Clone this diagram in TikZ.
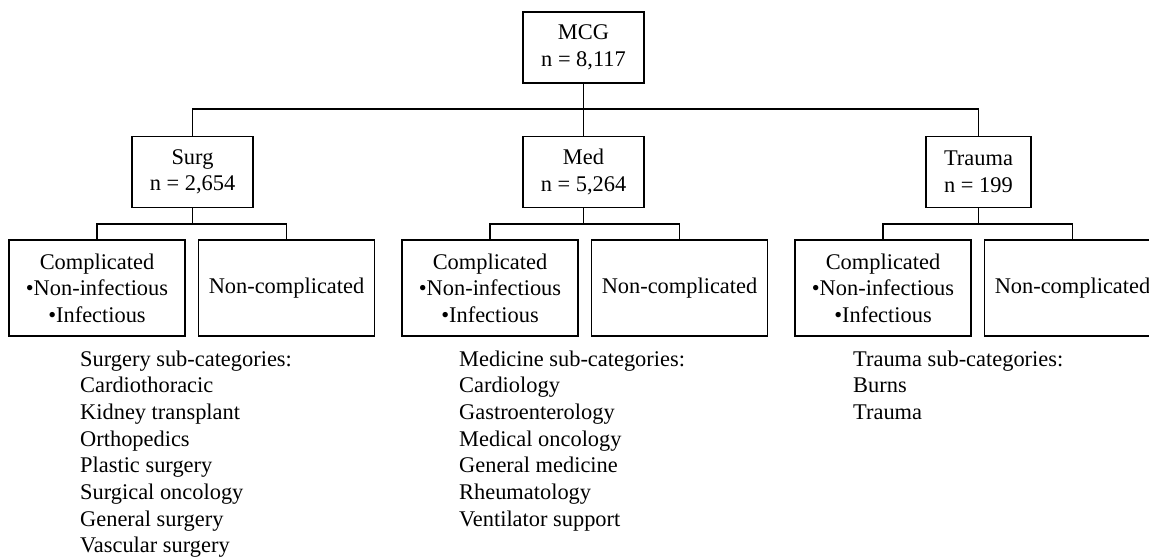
\documentclass[tikz,border=0pt]{standalone}
\usepackage{fontspec}
\setmainfont{Liberation Serif}
\begin{document}
\begin{tikzpicture}[x=1pt,y=-1pt,
  box/.style={draw, line width=1.6pt, align=center, inner sep=0pt, font=\fontsize{22.4}{26.5}\selectfont},
  topbox/.style={box, minimum width=121pt, minimum height=71pt},
  leaf/.style={box, minimum width=176pt, minimum height=96pt},
  link/.style={line width=1.6pt},
  item/.style={anchor=base west, inner sep=0pt, font=\fontsize{22.4}{26.7}\selectfont}]
\useasboundingbox (0,0) rectangle (1149,557);

\node[topbox] (mcg) at (583.5,47.5) {MCG\\n = 8,117};
\node[topbox] (surg) at (192.5,172) {Surg\\n = 2,654};
\node[topbox] (med) at (583.5,172) {Med\\n = 5,264};
\node[topbox, minimum width=105pt] (trauma) at (978.5,172) {Trauma\\n = 199};

\node[leaf] (sc) at (97,288) {Complicated\\•Non-infectious\\•Infectious};
\node[leaf] (sn) at (286.5,288) {Non-complicated};
\node[leaf] (mc) at (490,288) {Complicated\\•Non-infectious\\•Infectious};
\node[leaf] (mn) at (679.5,288) {Non-complicated};
\node[leaf] (tc) at (883,288) {Complicated\\•Non-infectious\\•Infectious};
\node[leaf] (tn) at (1072.5,288) {Non-complicated};

\coordinate (bus) at (583.5,109);
\draw[link] (mcg.south) -- (bus);
\draw[link] (surg.north) |- (bus) -| (trauma.north);
\draw[link] (bus) -- (med.north);

\coordinate (sj) at (192.5,224);
\coordinate (mj) at (583.5,224);
\coordinate (tj) at (978.5,224);
\draw[link] (surg.south) -- (sj);
\draw[link] (sc.north) |- (sj) -| (sn.north);
\draw[link] (med.south) -- (mj);
\draw[link] (mc.north) |- (mj) -| (mn.north);
\draw[link] (trauma.south) -- (tj);
\draw[link] (tc.north) |- (tj) -| (tn.north);

\foreach \t [count=\i] in {Surgery sub-categories:, Cardiothoracic, Kidney transplant, Orthopedics, Plastic surgery, Surgical oncology, General surgery, Vascular surgery}
  \node[item] (s\i) at (80,{366+26.7*(\i-1)}) {\t};
\foreach \t [count=\i] in {Medicine sub-categories:, Cardiology, Gastroenterology, Medical oncology, General medicine, Rheumatology, Ventilator support}
  \node[item] (m\i) at (459,{366+26.7*(\i-1)}) {\t};
\foreach \t [count=\i] in {Trauma sub-categories:, Burns, Trauma}
  \node[item] (t\i) at (853,{366+26.7*(\i-1)}) {\t};
\end{tikzpicture}
\end{document}
